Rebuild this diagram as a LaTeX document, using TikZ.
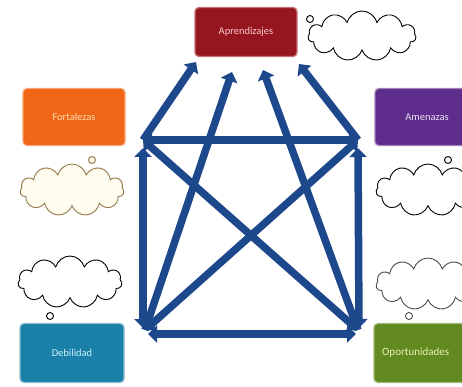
\documentclass[tikz,border=0pt]{standalone}
\usepackage{fontspec}
\setmainfont{Carlito}
\usetikzlibrary{shapes.symbols,shapes.callouts,arrows.meta}
\definecolor{aprRed}{RGB}{150,22,32}
\definecolor{fortOrange}{RGB}{240,102,22}
\definecolor{amenPurple}{RGB}{94,44,138}
\definecolor{debBlue}{RGB}{26,128,168}
\definecolor{oporGreen}{RGB}{98,138,32}
\definecolor{arrowBlue}{RGB}{30,72,140}
\definecolor{cloudTan}{RGB}{150,120,70}
\tikzset{
  box/.style={rounded corners=4pt, inner sep=0pt, font=\fontsize{10.5}{12}\selectfont, line width=1.2pt},
  arr/.style={draw=arrowBlue, line width=7.5pt, -{Triangle[length=9pt,width=17pt]}},
  darr/.style={draw=arrowBlue, line width=7.5pt, {Triangle[length=9pt,width=17pt]}-{Triangle[length=9pt,width=17pt]}},
  thought/.style={cloud callout, cloud puffs=11, aspect=2, draw=black, fill=white, line width=0.9pt,
    callout pointer segments=1, callout pointer start size=8pt and 7pt, callout pointer end size=8pt and 7pt, inner sep=0pt}
}
\begin{document}
\begin{tikzpicture}[x=1pt,y=-1pt]
\useasboundingbox (0,0) rectangle (462,387);
\fill[white] (0,0) rectangle (462,387);
\clip (0,0) rectangle (462,387);
% boxes
\node[box, fill=aprRed, draw=aprRed!60, minimum width=102pt, minimum height=49pt, text={rgb,255:red,250;green,200;blue,200}] (apr) at (246,32) {Aprendizajes};
\node[box, fill=fortOrange, draw=fortOrange!60, minimum width=102pt, minimum height=57pt, text={rgb,255:red,252;green,222;blue,170}] (fort) at (74,117) {Fortalezas};
\node[box, fill=amenPurple, draw=amenPurple!60, minimum width=104pt, minimum height=57pt, text={rgb,255:red,236;green,226;blue,246}] (amen) at (427,117) {Amenazas};
\node[box, fill=debBlue, draw=debBlue!50, minimum width=104pt, minimum height=59pt, text={rgb,255:red,205;green,242;blue,252}] (deb) at (72,353) {Debilidad};
\node[box, fill=oporGreen, draw=oporGreen!60, minimum width=104pt, minimum height=59pt, text={rgb,255:red,232;green,242;blue,180}] (opor) at (426,353) {};
\node[anchor=west, inner sep=0pt, font=\fontsize{11}{12}\selectfont, text={rgb,255:red,232;green,242;blue,180}] (oportxt) at (382,353) {Oportunidades};
% clouds
\node[thought, minimum width=108pt, minimum height=50pt, callout absolute pointer={(310,19)}] (c1) at (362,36) {};
\node[thought, draw=cloudTan, fill={rgb,255:red,255;green,252;blue,240}, minimum width=104pt, minimum height=52pt, callout absolute pointer={(92,160)}] (c2) at (72,190) {};
\node[thought, minimum width=104pt, minimum height=52pt, callout absolute pointer={(448,160)}] (c3) at (428,190) {};
\node[thought, minimum width=104pt, minimum height=52pt, callout absolute pointer={(50,316)}] (c4) at (70,282) {};
\node[thought, draw=black!70, minimum width=104pt, minimum height=52pt, callout absolute pointer={(409,316)}] (c5) at (428,284) {};
% corner points
\coordinate (TL) at (143,140);
\coordinate (TR) at (358,140);
\coordinate (BL) at (145,330);
\coordinate (BR) at (358,330);
\coordinate (TLv) at (143,148);
\coordinate (TRv) at (358,148);
\coordinate (BLv) at (143,328);
\coordinate (BRv) at (359,328);
\coordinate (BLh) at (148,334);
\coordinate (BRh) at (356,334);
\coordinate (a1) at (196,62);
\coordinate (a2) at (232,72);
\coordinate (a3) at (263,70);
\coordinate (a4) at (299,64);
% connectors
\draw[darr] (TL) -- (TR);
\draw[darr] (BLh) -- (BRh);
\draw[darr] (BLv) -- (TLv);
\draw[darr] (BRv) -- (TRv);
\draw[darr] (TL) -- (BR);
\draw[darr] (TR) -- (BL);
\draw[arr] (TL) -- (a1);
\draw[arr] (BL) -- (a2);
\draw[arr] (BR) -- (a3);
\draw[arr] (TR) -- (a4);
\end{tikzpicture}
\end{document}
